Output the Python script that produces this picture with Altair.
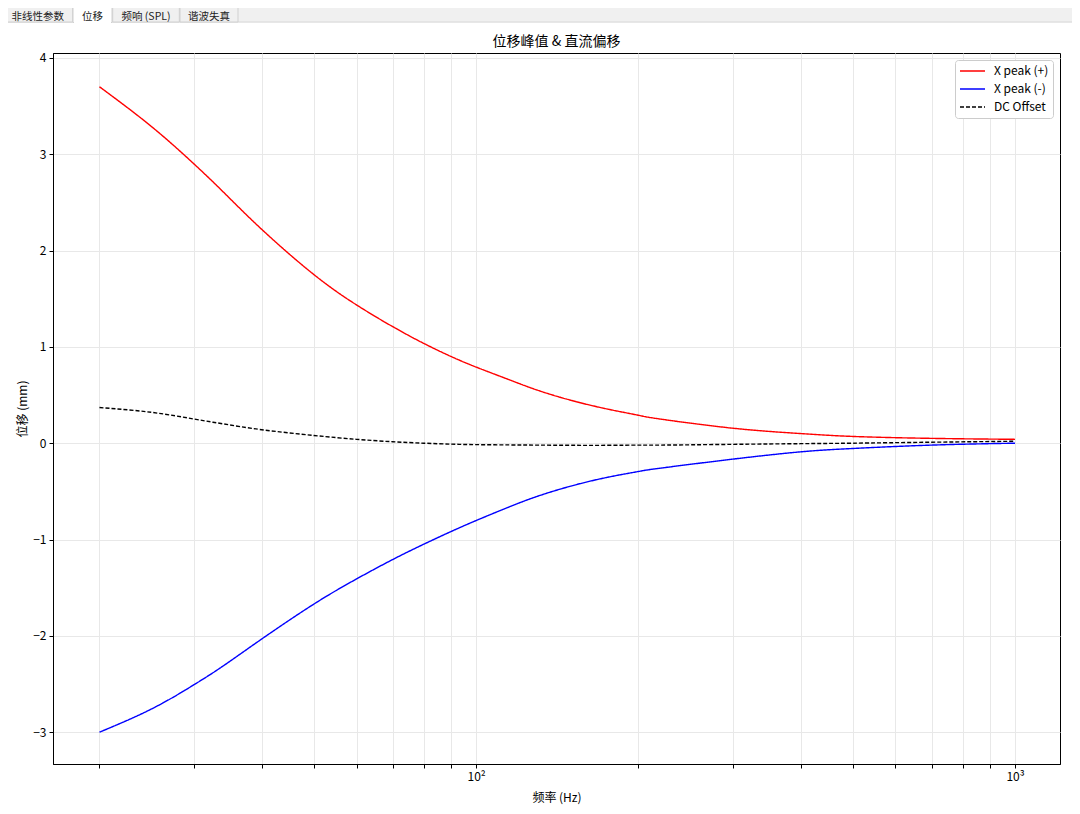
import altair as alt
import pandas as pd

# ---------------- data ----------------
freq = [20, 25, 30, 34, 40, 50, 60, 70, 80, 90, 100, 115, 130, 150, 175, 200, 220, 300, 400, 500, 700, 1000]
x_peak_pos = [3.70, 3.285, 2.895, 2.604, 2.22, 1.75, 1.435, 1.21, 1.035, 0.898, 0.79, 0.66, 0.55, 0.445,
              0.355, 0.29, 0.25, 0.155, 0.10, 0.07, 0.05, 0.04]
x_peak_neg = [-3.00, -2.758, -2.505, -2.309, -2.033, -1.670, -1.409, -1.208, -1.048, -0.915, -0.803, -0.663,
              -0.551, -0.445, -0.355, -0.294, -0.259, -0.165, -0.09, -0.055, -0.02, 0.00]
dc_offset = [0.37, 0.32, 0.25, 0.20, 0.14, 0.08, 0.04, 0.015, 0.0, -0.01, -0.015, -0.018, -0.02, -0.022,
             -0.022, -0.02, -0.02, -0.012, -0.005, 0.0, 0.01, 0.02]
series_names = ["X peak (+)", "X peak (-)", "DC Offset"]
x_tick_values = [20, 30, 40, 50, 60, 70, 80, 90, 100, 200, 300, 400, 500, 600, 700, 800, 900, 1000]
y_tick_values = [-3, -2, -1, 0, 1, 2, 3, 4]
tab_labels = ["非线性参数", "位移", "频响 (SPL)", "谐波失真"]
chart_title = "位移峰值 & 直流偏移"
x_title = "频率 (Hz)"
y_title = "位移 (mm)"

rows = []
for i, f in enumerate(freq):
    rows.append({"f": f, "v": x_peak_pos[i], "s": series_names[0]})
    rows.append({"f": f, "v": x_peak_neg[i], "s": series_names[1]})
    rows.append({"f": f, "v": dc_offset[i], "s": series_names[2]})
df = pd.DataFrame(rows)

FONT = "Noto Sans CJK SC"
W, H = 1007, 711

lines = alt.Chart(df).mark_line(strokeWidth=1.4, interpolate="natural", clip=True).encode(
    x=alt.X("f:Q",
            scale=alt.Scale(type="log", domain=[16.4, 1212], nice=False),
            axis=alt.Axis(values=x_tick_values,
                          labelExpr="datum.value == 100 ? '10²' : datum.value == 1000 ? '10³' : ''",
                          title=x_title, titleX=W / 2, titleY=33, titleBaseline="middle",
                          titleAlign="center")),
    y=alt.Y("v:Q",
            scale=alt.Scale(domain=[-3.33, 4.05], nice=False, zero=False),
            axis=alt.Axis(values=y_tick_values, format="d", title=y_title,
                          titleX=-31, titleY=H / 2, titleAngle=-90,
                          titleAlign="center", titleBaseline="middle")),
    color=alt.Color("s:N",
                    scale=alt.Scale(domain=series_names, range=["#ff0000", "#0000ff", "#000000"]),
                    legend=alt.Legend(title=None)),
    strokeDash=alt.StrokeDash("s:N",
                              scale=alt.Scale(domain=series_names, range=[[1, 0], [1, 0], [4, 2]]),
                              legend=alt.Legend(title=None)),
    order=alt.Order("f:Q"),
)

one = pd.DataFrame({"a": [0]})

title_mark = alt.Chart(one).mark_text(
    font=FONT, fontSize=14, color="black", baseline="middle", align="center").encode(
    x=alt.value(W / 2), y=alt.value(-11), text=alt.value(chart_title))

# window chrome: tab bar
bar = alt.Chart(one).mark_rect(color="#f0f0f0").encode(
    x=alt.value(-60), x2=alt.value(1030), y=alt.value(-60), y2=alt.value(-31.5))
border = alt.Chart(one).mark_rule(color="#d0d0d0", strokeWidth=1).encode(
    x=alt.value(-50), x2=alt.value(1020), y=alt.value(-31), y2=alt.value(-31))

tab_x = [(-50.3, 19.7), (20, 59), (59.7, 126.3), (127, 185)]
tab_layers = []
for i, (lab, (a, b)) in enumerate(zip(tab_labels, tab_x)):
    sel = (i == 1)
    tab_layers.append(alt.Chart(one).mark_rect(
        fill="white" if sel else "#f0f0f0", stroke="#d0d0d0", strokeWidth=1).encode(
        x=alt.value(a), x2=alt.value(b),
        y=alt.value(-53 if sel else -50.3), y2=alt.value(-30.5 if sel else -31)))
    if sel:
        tab_layers.append(alt.Chart(one).mark_rule(color="white", strokeWidth=2).encode(
            x=alt.value(a + 1), x2=alt.value(b - 1), y=alt.value(-31), y2=alt.value(-31)))
    tab_layers.append(alt.Chart(one).mark_text(
        font=FONT, fontSize=10.5, color="#222222", baseline="middle", align="center").encode(
        x=alt.value((a + b) / 2), y=alt.value(-36), text=alt.value(lab)))

chart = alt.layer(bar, border, *tab_layers, title_mark, lines).properties(
    width=W, height=H,
    autosize=alt.AutoSizeParams(type="none"),
    padding={"left": 45, "top": 45, "right": 12, "bottom": 50},
).configure(background="white").configure_view(
    stroke="black", strokeWidth=1
).configure_axis(
    labelFont=FONT, titleFont=FONT, labelFontSize=12, titleFontSize=12,
    labelColor="black", titleColor="black", titleFontWeight="normal",
    domainColor="black", domainWidth=1, tickColor="black", tickSize=4, tickWidth=1,
    labelPadding=3, grid=True, gridColor="#e8e8e8", gridWidth=1,
).configure_legend(
    orient="top-right", offset=7, fillColor="white", strokeColor="#cccccc",
    cornerRadius=3, padding=4, labelFont=FONT, labelFontSize=12, labelColor="black",
    symbolType="stroke", symbolSize=625, symbolStrokeWidth=1.5, labelOffset=8,
    clipHeight=14, rowPadding=4,
)

chart.save("out.html", embed_options={"renderer": "svg", "actions": False})
